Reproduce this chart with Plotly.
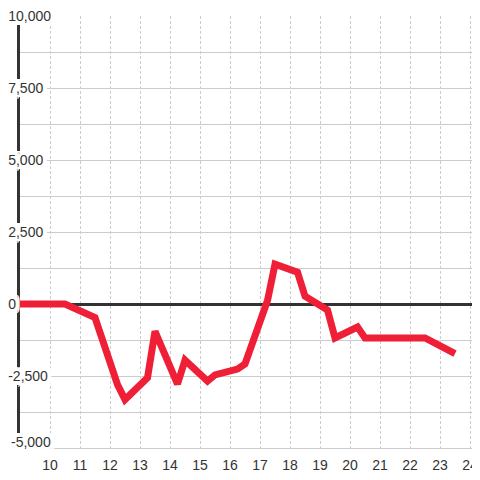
import plotly.graph_objects as go

hours = [9, 10.5, 11.5, 12.25, 12.5, 13.25, 13.5, 14.25, 14.5, 15.25, 15.5,
         16.25, 16.5, 17.25, 17.5, 18.25, 18.5, 19.25, 19.5, 20.25, 20.5, 22.5, 23.5]
values = [0, 0, -470, -2800, -3320, -2560, -950, -2780, -1950, -2680, -2460,
          -2260, -2080, 120, 1380, 1100, 270, -210, -1180, -800, -1180, -1180, -1720]

x_ticks = list(range(10, 25))
y_ticks = [-2500, 0, 2500, 5000, 7500, 10000]
y_bottom_tick = [-5000]
y_labels = [f"{v:,}" for v in y_ticks]
y_bottom_label = [f"{v:,}" for v in y_bottom_tick]

fig = go.Figure()
fig.add_trace(go.Scatter(
    x=hours, y=values, mode="lines", xaxis="x", yaxis="y",
    line=dict(color="#ee1f36", width=7),
    hoverinfo="skip", showlegend=False,
))
# transparent twin so the overlaying axis (bottom label) is drawn
fig.add_trace(go.Scatter(
    x=hours, y=values, mode="lines", xaxis="x", yaxis="y2",
    line=dict(color="rgba(0,0,0,0)", width=0),
    hoverinfo="skip", showlegend=False,
))

offs = []
for d in (1, 2, 3, 4):
    for dx, dy in ((d, 0), (-d, 0), (0, d), (0, -d), (d, d), (-d, -d), (d, -d), (-d, d)):
        offs.append(f"white {dx}px {dy}px 0px")
halo = ", ".join(offs)

common_y = dict(
    range=[-5000, 10000], ticks="", ticklabelposition="inside",
    ticklabelstandoff=-12, ticklabeloverflow="allow", automargin=False,
    tickfont=dict(size=14, color="#333", shadow=halo),
)

fig.update_layout(
    width=472, height=472,
    margin=dict(l=12, r=0, t=8, b=32, autoexpand=False),
    paper_bgcolor="white", plot_bgcolor="white",
    font=dict(family="Liberation Sans, Arial, sans-serif", size=14, color="#333"),
    xaxis=dict(
        range=[9, 24.333], tickvals=x_ticks, ticktext=[str(t) for t in x_ticks],
        showgrid=True, gridcolor="#cccccc", gridwidth=1, griddash="3px,2px",
        zeroline=False, showline=True, linecolor="#cccccc", linewidth=1,
        ticks="", automargin=False,
        ticklabelstandoff=4,
        tickfont=dict(size=14, color="#333"),
    ),
    yaxis=dict(
        tickvals=[-5000] + y_ticks, ticktext=[""] + y_labels,
        showgrid=True, gridcolor="#cccccc", gridwidth=1,
        minor=dict(dtick=1250, tick0=0, showgrid=True, gridcolor="#cccccc", gridwidth=1),
        zeroline=True, zerolinecolor="#333333", zerolinewidth=3,
        showline=True, linecolor="#333333", linewidth=3,
        **common_y,
    ),
    yaxis2=dict(
        overlaying="y", side="left", anchor="x",
        tickvals=y_bottom_tick, ticktext=y_bottom_label,
        showgrid=False, zeroline=False, showline=False,
        ticklabelshift=-6,
        **common_y,
    ),
)

fig.write_html("out.html")
